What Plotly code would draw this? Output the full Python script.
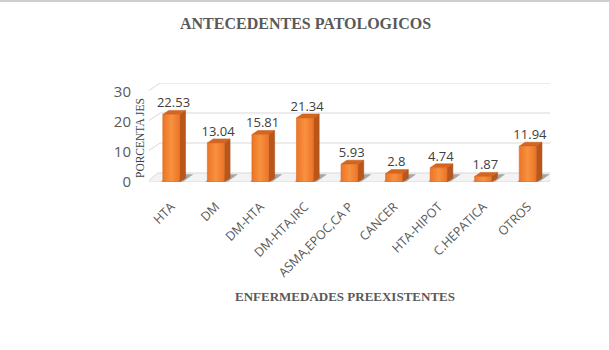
import plotly.graph_objects as go

categories = ["HTA", "DM", "DM-HTA", "DM-HTA,IRC", "ASMA,EPOC,CA P", "CANCER", "HTA-HIPOT", "C.HEPATICA", "OTROS"]
values = [22.53, 13.04, 15.81, 21.34, 5.93, 2.8, 4.74, 1.87, 11.94]
ytick_vals = [0, 10, 20, 30]

W, H = 609, 350
ML, MR, MT, MB = 149, 59, 83, 168
plot_w = W - ML - MR
plot_h = H - MT - MB

half = 0.19      # half bar width (category units)
dx = 0.13        # depth offset x (category units)
dy = 1.33        # depth offset y (value units)
gdx, gdy = 0.25, 3.0  # back wall offset

xs = list(range(len(categories)))
fig = go.Figure()

# back-wall gridlines (drawn first, behind everything)
for t in ytick_vals[1:]:
    fig.add_trace(go.Scatter(
        x=[-0.5 - 0.05, -0.5 + gdx, 8.5 + gdx + 0.02], y=[t, t + gdy, t + gdy],
        mode="lines", line=dict(color="#d9d9d9", width=1),
        hoverinfo="skip", showlegend=False))

# floor
fig.add_trace(go.Scatter(
    x=[-0.55, 8.45, 8.45 + gdx, -0.55 + gdx, -0.55],
    y=[0, 0, gdy, gdy, 0],
    fill="toself", fillcolor="#f3f3f3", line=dict(color="#d9d9d9", width=1),
    mode="lines", hoverinfo="skip", showlegend=False))

# bar shadows on floor
for i in xs:
    fig.add_trace(go.Scatter(
        x=[i - half - 0.05, i + half + 0.08, i + half + 0.08 + gdx * 0.9, i - half + 0.05 + gdx * 0.6, i - half - 0.05],
        y=[0.2, 0.2, gdy * 0.85, gdy * 0.85, 0.2],
        fill="toself", fillcolor="rgba(90,90,90,0.5)", line=dict(width=0),
        mode="lines", hoverinfo="skip", showlegend=False))

# 3D bars: side, top, front faces
for i, v in zip(xs, values):
    fig.add_trace(go.Scatter(
        x=[i + half, i + half + dx, i + half + dx, i + half, i + half],
        y=[0, dy, v + dy, v, 0],
        fill="toself", fillcolor="#B9561A", line=dict(color="#A84C16", width=0.5),
        mode="lines", hoverinfo="skip", showlegend=False))
    fig.add_trace(go.Scatter(
        x=[i - half, i - half + dx, i + half + dx, i + half, i - half],
        y=[v, v + dy, v + dy, v, v],
        fill="toself", fillcolor="#D5651F", line=dict(color="#C25A1A", width=0.5),
        mode="lines", hoverinfo="skip", showlegend=False))
    fig.add_trace(go.Scatter(
        x=[i - half, i + half, i + half, i - half, i - half],
        y=[0, 0, v, v, 0],
        fill="toself",
        fillgradient=dict(type="horizontal",
                          colorscale=[[0, "#EC7428"], [0.5, "#F7923F"], [1, "#EC7428"]]),
        line=dict(color="#DA6A20", width=0.6),
        mode="lines", hoverinfo="skip", showlegend=False))

# data labels
fig.add_trace(go.Scatter(
    x=[i + 0.05 for i in xs], y=[v + dy for v in values],
    mode="text", text=[f"{v:g}" for v in values], textposition="top center",
    textfont=dict(family="Open Sans", size=13, color="#404040"),
    hoverinfo="skip", showlegend=False))

def px_x(p):
    return (p - ML) / plot_w

def px_y(p):
    return (plot_h + MT - p) / plot_h

shapes = [dict(type="line", xref="paper", yref="paper",
               x0=px_x(0), x1=px_x(W), y0=px_y(1), y1=px_y(1),
               line=dict(color="#cfcfcf", width=2))]

annotations = [
    dict(text="<b>ANTECEDENTES PATOLOGICOS</b>", xref="paper", yref="paper",
         x=px_x(305), y=px_y(24), xanchor="center", yanchor="middle", showarrow=False,
         font=dict(family="Liberation Serif", size=16, color="#595959")),
    dict(text="<b>ENFERMEDADES PREEXISTENTES</b>", xref="paper", yref="paper",
         x=px_x(345), y=px_y(296), xanchor="center", yanchor="middle", showarrow=False,
         font=dict(family="Liberation Serif", size=13, color="#595959")),
    dict(text="PORCENTA JES", xref="paper", yref="paper", textangle=-90,
         x=px_x(140), y=px_y(138), xanchor="center", yanchor="middle", showarrow=False,
         font=dict(family="Liberation Serif", size=11.5, color="#404040")),
]

fig.update_layout(
    width=W, height=H,
    margin=dict(l=ML, r=MR, t=MT, b=MB, pad=0),
    paper_bgcolor="white", plot_bgcolor="white",
    shapes=shapes, annotations=annotations,
    xaxis=dict(range=[-0.5, 8.5], tickvals=xs, ticktext=categories, tickangle=-45,
               showgrid=False, zeroline=False, showline=False, ticks="",
               ticklabelstandoff=14,
               tickfont=dict(family="Open Sans", size=12.5, color="#595959")),
    yaxis=dict(range=[0, 33], tickvals=ytick_vals, showgrid=False, zeroline=False,
               showline=False, ticks="", ticklabelstandoff=17,
               tickfont=dict(family="Open Sans", size=15, color="#595959")),
)

fig.write_html("out.html")
